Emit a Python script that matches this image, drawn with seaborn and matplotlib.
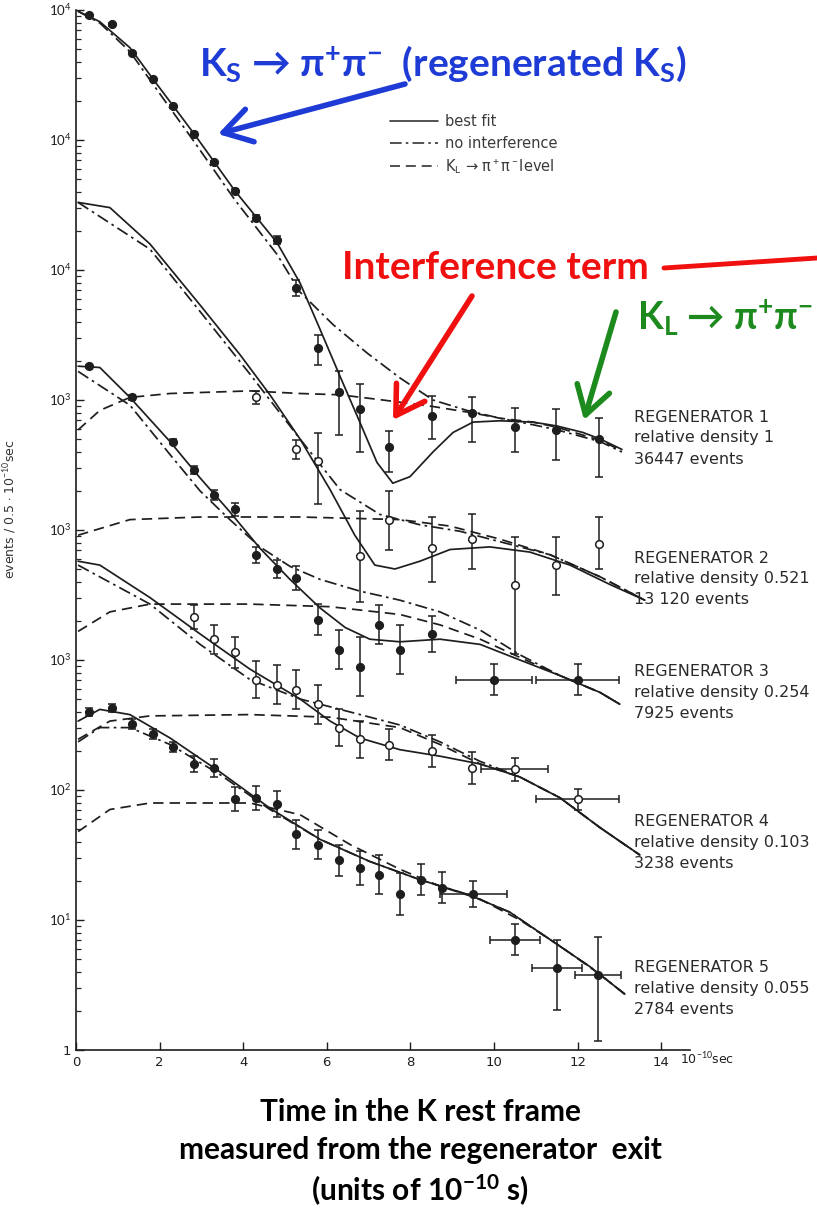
import numpy as np
import pandas as pd
import matplotlib
matplotlib.use("Agg")
import matplotlib.pyplot as plt
from matplotlib.lines import Line2D
import seaborn as sns

sns.set_theme(style="ticks")
plt.rcParams['font.family'] = ['DejaVu Sans']
plt.rcParams['mathtext.fontset'] = 'custom'
plt.rcParams['mathtext.rm'] = 'Lato'
plt.rcParams['mathtext.bf'] = 'Lato:bold'
plt.rcParams['mathtext.it'] = 'Lato:italic'

# ---------------- data: time (1e-10 s) and log10(events, plot scale) ----------------
# Regenerator 1
r1_fit_t = [0.05, 0.57, 1.29, 1.84, 2.82, 3.80, 4.81, 5.36, 5.79, 6.32, 6.79, 7.20, 7.58, 7.99, 8.54, 9.02, 9.50, 10.14, 10.93, 11.51, 12.13, 12.54, 13.06]
r1_fit_log = [7.99, 7.91, 7.71, 7.47, 7.05, 6.61, 6.21, 5.90, 5.58, 5.18, 4.83, 4.52, 4.36, 4.41, 4.60, 4.75, 4.83, 4.84, 4.83, 4.80, 4.75, 4.70, 4.62]
r1_noi_t = [0.05, 0.57, 1.29, 1.84, 2.82, 3.80, 4.81, 5.36, 6.15, 6.97, 7.75, 8.54, 9.35, 10.14, 10.93, 11.51, 12.54, 13.06]
r1_noi_log = [7.99, 7.90, 7.68, 7.43, 6.99, 6.54, 6.12, 5.83, 5.58, 5.36, 5.17, 5.00, 4.92, 4.86, 4.81, 4.77, 4.68, 4.60]
r1_kl_t = [0.05, 0.57, 1.29, 2.25, 4.16, 5.36, 6.32, 7.34, 8.54, 9.50, 10.14, 10.93, 11.51, 12.54, 13.06]
r1_kl_log = [4.77, 4.92, 5.02, 5.05, 5.07, 5.05, 5.04, 5.00, 4.95, 4.90, 4.86, 4.83, 4.79, 4.69, 4.61]
r1_pt_t = [0.30, 0.85, 1.35, 1.85, 2.32, 2.82, 3.30, 3.80, 4.31, 4.81, 5.26, 5.79, 6.29, 6.79, 7.49, 8.52, 9.47, 10.50, 11.48, 12.51]
r1_pt_log = [7.96, 7.89, 7.67, 7.47, 7.26, 7.05, 6.83, 6.61, 6.40, 6.23, 5.86, 5.40, 5.06, 4.93, 4.64, 4.88, 4.90, 4.79, 4.77, 4.70]
r1_pt_lo = [7.95, 7.88, 7.66, 7.46, 7.25, 7.04, 6.82, 6.60, 6.38, 6.20, 5.80, 5.27, 4.73, 4.60, 4.45, 4.70, 4.68, 4.60, 4.54, 4.41]
r1_pt_hi = [7.97, 7.90, 7.68, 7.48, 7.27, 7.06, 6.84, 6.62, 6.42, 6.26, 5.92, 5.50, 5.22, 5.12, 4.76, 5.03, 5.02, 4.94, 4.93, 4.86]
r1_pt_xerr = [0] * 20

# Regenerator 2
r2_fit_t = [0.05, 0.81, 1.77, 2.97, 3.92, 4.64, 5.36, 6.08, 6.67, 7.15, 7.63, 8.23, 8.95, 9.90, 10.86, 11.82, 12.78, 13.61]
r2_fit_log = [6.52, 6.48, 6.20, 5.73, 5.35, 5.04, 4.70, 4.31, 3.96, 3.73, 3.70, 3.76, 3.85, 3.87, 3.83, 3.73, 3.58, 3.46]
r2_noi_t = [0.05, 1.77, 2.97, 4.16, 5.36, 6.32, 7.27, 8.23, 9.19, 10.14, 11.34, 12.54, 13.61]
r2_noi_log = [6.52, 6.16, 5.68, 5.20, 4.70, 4.31, 4.12, 4.04, 3.99, 3.91, 3.81, 3.64, 3.46]
r2_kl_t = [0.05, 1.29, 2.97, 5.36, 7.75, 8.95, 10.14, 11.34, 12.54, 13.61]
r2_kl_log = [3.96, 4.08, 4.10, 4.10, 4.08, 4.03, 3.93, 3.81, 3.64, 3.46]
r2_pt_t = [4.31, 5.26, 5.79, 6.79, 7.49, 8.52, 9.47, 10.50, 11.48, 12.51]
r2_pt_log = [5.02, 4.62, 4.53, 3.80, 4.08, 3.86, 3.93, 3.58, 3.73, 3.89]
r2_pt_lo = [4.97, 4.55, 4.20, 3.45, 3.85, 3.60, 3.70, 3.05, 3.50, 3.70]
r2_pt_hi = [5.07, 4.69, 4.75, 4.15, 4.30, 4.10, 4.12, 3.95, 3.95, 4.10]
r2_pt_xerr = [0] * 10

# Regenerator 3
r3_fit_t = [0.05, 0.57, 1.29, 2.25, 2.97, 3.68, 4.40, 5.12, 5.84, 6.44, 7.03, 7.75, 8.71, 9.67, 10.62, 11.58, 12.54, 13.01]
r3_fit_log = [5.26, 5.25, 5.02, 4.68, 4.40, 4.14, 3.86, 3.62, 3.40, 3.25, 3.16, 3.14, 3.16, 3.12, 3.00, 2.88, 2.75, 2.66]
r3_noi_t = [0.05, 1.29, 2.25, 2.97, 3.68, 4.40, 5.12, 5.84, 6.79, 7.75, 8.71, 9.67, 10.62, 11.58, 12.54, 13.01]
r3_noi_log = [5.22, 4.96, 4.58, 4.30, 4.08, 3.87, 3.72, 3.62, 3.53, 3.46, 3.37, 3.23, 3.04, 2.88, 2.75, 2.66]
r3_kl_t = [0.05, 0.81, 1.77, 4.16, 6.08, 7.75, 8.71, 9.67, 10.62, 11.58, 12.54, 13.01]
r3_kl_log = [3.22, 3.37, 3.43, 3.43, 3.41, 3.35, 3.27, 3.16, 3.02, 2.88, 2.75, 2.66]
r3_pt_t = [0.30, 1.35, 2.32, 2.82, 3.30, 3.80, 4.31, 4.81, 5.26, 5.79, 6.29, 6.79, 7.25, 7.75, 8.52, 10.0, 12.0]
r3_pt_log = [5.26, 5.02, 4.68, 4.46, 4.27, 4.16, 3.81, 3.70, 3.63, 3.31, 3.08, 2.95, 3.27, 3.08, 3.20, 2.85, 2.85]
r3_pt_lo = [5.25, 5.00, 4.66, 4.43, 4.23, 4.11, 3.75, 3.63, 3.54, 3.19, 2.93, 2.72, 3.12, 2.89, 3.06, 2.73, 2.73]
r3_pt_hi = [5.27, 5.04, 4.70, 4.49, 4.31, 4.21, 3.87, 3.77, 3.72, 3.43, 3.23, 3.18, 3.42, 3.27, 3.34, 2.97, 2.97]
r3_pt_xerr = [0, 0, 0, 0, 0, 0, 0, 0, 0, 0, 0, 0, 0, 0, 0, 0.9, 1.0]

# Regenerator 4
r4_fit_t = [0.05, 0.57, 1.77, 2.97, 4.16, 5.36, 6.08, 6.79, 7.75, 8.71, 9.67, 10.62, 11.58, 12.54, 13.49]
r4_fit_log = [3.76, 3.73, 3.48, 3.20, 2.93, 2.70, 2.53, 2.40, 2.31, 2.26, 2.20, 2.10, 1.94, 1.71, 1.50]
r4_noi_t = [0.05, 1.77, 2.97, 4.16, 5.36, 6.56, 7.75, 8.71, 9.67, 10.62, 11.58, 12.54, 13.49]
r4_noi_log = [3.73, 3.43, 3.12, 2.85, 2.70, 2.60, 2.50, 2.37, 2.22, 2.10, 1.94, 1.71, 1.50]
r4_kl_t = [0.05, 0.81, 1.77, 4.16, 6.08, 7.75, 8.71, 9.67, 10.62, 11.58, 12.54, 13.49]
r4_kl_log = [2.39, 2.53, 2.57, 2.58, 2.56, 2.48, 2.35, 2.20, 2.10, 1.94, 1.71, 1.50]
r4_pt_t = [2.82, 3.30, 3.80, 4.31, 4.81, 5.26, 5.79, 6.29, 6.79, 7.49, 8.52, 9.47, 10.50, 12.0]
r4_pt_log = [3.33, 3.16, 3.06, 2.85, 2.81, 2.77, 2.66, 2.48, 2.39, 2.35, 2.30, 2.17, 2.16, 1.93]
r4_pt_lo = [3.24, 3.05, 2.94, 2.71, 2.66, 2.62, 2.51, 2.34, 2.25, 2.23, 2.18, 2.05, 2.07, 1.85]
r4_pt_hi = [3.42, 3.27, 3.18, 2.99, 2.96, 2.92, 2.81, 2.62, 2.53, 2.47, 2.42, 2.29, 2.25, 2.01]
r4_pt_xerr = [0, 0, 0, 0, 0, 0, 0, 0, 0, 0, 0, 0, 0.8, 1.0]

# Regenerator 5
r5_fit_t = [0.05, 0.57, 1.29, 2.25, 3.44, 4.64, 5.84, 7.03, 8.23, 9.43, 10.38, 11.34, 12.30, 13.13]
r5_fit_log = [2.53, 2.62, 2.58, 2.40, 2.14, 1.86, 1.62, 1.45, 1.31, 1.19, 1.06, 0.85, 0.64, 0.43]
r5_noi_t = [0.05, 0.57, 1.29, 2.25, 3.44, 4.64, 5.84, 7.03, 8.23, 9.43, 10.38, 11.34, 12.30, 13.13]
r5_noi_log = [2.37, 2.48, 2.48, 2.35, 2.12, 1.85, 1.62, 1.45, 1.31, 1.19, 1.06, 0.85, 0.64, 0.43]
r5_kl_t = [0.05, 0.81, 1.77, 4.16, 5.36, 6.56, 7.75, 8.71, 9.67, 10.62, 11.58, 12.54, 13.13]
r5_kl_log = [1.68, 1.85, 1.90, 1.90, 1.81, 1.58, 1.39, 1.26, 1.16, 1.00, 0.80, 0.58, 0.43]
r5_pt_t = [0.30, 0.85, 1.35, 1.85, 2.32, 2.82, 3.30, 3.80, 4.31, 4.81, 5.26, 5.79, 6.29, 6.79, 7.25, 7.75, 8.25, 8.75, 9.50, 10.50, 11.50, 12.50]
r5_pt_log = [2.60, 2.63, 2.51, 2.43, 2.33, 2.20, 2.17, 1.93, 1.94, 1.89, 1.66, 1.58, 1.46, 1.40, 1.35, 1.20, 1.31, 1.25, 1.20, 0.85, 0.63, 0.58]
r5_pt_lo = [2.57, 2.60, 2.47, 2.39, 2.29, 2.14, 2.10, 1.84, 1.85, 1.79, 1.55, 1.47, 1.34, 1.27, 1.20, 1.04, 1.19, 1.13, 1.10, 0.73, 0.31, 0.07]
r5_pt_hi = [2.63, 2.66, 2.55, 2.47, 2.37, 2.26, 2.24, 2.02, 2.03, 1.99, 1.77, 1.69, 1.58, 1.53, 1.50, 1.36, 1.43, 1.37, 1.30, 0.97, 0.85, 0.87]
r5_pt_xerr = [0] * 18 + [0.8, 0.6, 0.6, 0.55]

regenerators = [
    ("REGENERATOR 1", "relative density 1", "36447 events", True),
    ("REGENERATOR 2", "relative density 0.521", "13 120 events", False),
    ("REGENERATOR 3", "relative density 0.254", "7925 events", True),
    ("REGENERATOR 4", "relative density 0.103", "3238 events", False),
    ("REGENERATOR 5", "relative density 0.055", "2784 events", True),
]
label_rows = [417, 558, 672, 822, 968]   # top line of each regenerator caption (pixels)

y_tick_labels = ["1", r"$10^1$", r"$10^2$", r"$10^3$", r"$10^3$", r"$10^3$", r"$10^4$", r"$10^4$", r"$10^4$"]
x_ticks = [0, 2, 4, 6, 8, 10, 12, 14]

# ---------------- figure ----------------
W, H = 817, 1219
fig = plt.figure(figsize=(W / 100, H / 100), dpi=100)
ax = fig.add_axes([76 / W, (H - 1050) / H, (690 - 76) / W, 1040 / H])
ax.set_yscale('log')

ink = '#1e1e1e'
dashdot = (7, 2.5, 1.5, 2.5)
dashed = (6, 3.5)

series = [
    (r1_fit_t, r1_fit_log, r1_noi_t, r1_noi_log, r1_kl_t, r1_kl_log, r1_pt_t, r1_pt_log, r1_pt_lo, r1_pt_hi, r1_pt_xerr),
    (r2_fit_t, r2_fit_log, r2_noi_t, r2_noi_log, r2_kl_t, r2_kl_log, r2_pt_t, r2_pt_log, r2_pt_lo, r2_pt_hi, r2_pt_xerr),
    (r3_fit_t, r3_fit_log, r3_noi_t, r3_noi_log, r3_kl_t, r3_kl_log, r3_pt_t, r3_pt_log, r3_pt_lo, r3_pt_hi, r3_pt_xerr),
    (r4_fit_t, r4_fit_log, r4_noi_t, r4_noi_log, r4_kl_t, r4_kl_log, r4_pt_t, r4_pt_log, r4_pt_lo, r4_pt_hi, r4_pt_xerr),
    (r5_fit_t, r5_fit_log, r5_noi_t, r5_noi_log, r5_kl_t, r5_kl_log, r5_pt_t, r5_pt_log, r5_pt_lo, r5_pt_hi, r5_pt_xerr),
]

for i, (ft, fl, nt, nl, kt, kl, pt, pl, plo, phi, pxe) in enumerate(series):
    for (tt, ll, st) in [(ft, fl, None), (nt, nl, dashdot), (kt, kl, dashed)]:
        df = pd.DataFrame({'t': tt, 'v': np.power(10.0, ll)})
        sns.lineplot(data=df, x='t', y='v', ax=ax, color=ink, lw=1.25, legend=False)
        if st is not None:
            ax.lines[-1].set_dashes(st)
    v = np.power(10.0, np.array(pl))
    lo = np.power(10.0, np.array(plo)); hi = np.power(10.0, np.array(phi))
    filled = regenerators[i][3]
    ax.errorbar(pt, v, yerr=[v - lo, hi - v], xerr=pxe, fmt='o', ms=5.5,
                mfc=ink if filled else 'white', mec=ink, mew=1.1,
                ecolor=ink, elinewidth=1.1, capsize=3, capthick=1.1, zorder=4)
    for k, txt in enumerate(regenerators[i][:3]):
        fig.text(634 / W, 1 - (label_rows[i] + 21 * k) / H, txt, fontsize=11.5, color='#2a2a2a',
                 va='center', ha='left')

ax.set_xlim(0, 14.69)
ax.set_ylim(1, 1e8)
ax.set_xlabel('')

legend_handles = [Line2D([], [], color='#333333', lw=1.2),
                  Line2D([], [], color='#333333', lw=1.2, dashes=dashdot),
                  Line2D([], [], color='#333333', lw=1.2, dashes=dashed)]
ax.legend(legend_handles, ["best fit", "no interference", r"K$_\mathrm{L}$ → π$^+$π$^-$level"],
          loc='upper left', bbox_to_anchor=(380 / W, 1 - 104 / H), bbox_transform=fig.transFigure,
          frameon=False, fontsize=10.5, handlelength=3.3, labelspacing=0.45, handletextpad=0.45,
          labelcolor='#3a3a3a', borderpad=0.2)

# axes styling
ax.set_yticks(np.power(10.0, np.arange(9)))
ax.set_yticklabels(y_tick_labels)
ax.yaxis.set_minor_locator(matplotlib.ticker.LogLocator(base=10, subs=np.arange(2, 10)))
ax.yaxis.set_minor_formatter(matplotlib.ticker.NullFormatter())
ax.set_xticks(x_ticks)
ax.set_xticklabels([str(v) for v in x_ticks])
ax.tick_params(axis='both', direction='in', colors=ink, labelsize=9.5, length=6, width=1.0)
ax.tick_params(axis='y', which='minor', direction='in', length=3.5, width=0.9)
ax.tick_params(axis='x', pad=4)
for s in ['top', 'right']:
    ax.spines[s].set_visible(False)
for s in ['left', 'bottom']:
    ax.spines[s].set_color(ink)
    ax.spines[s].set_linewidth(1.2)
ax.grid(False)
ax.set_ylabel(r'events / 0.5 $\cdot$ 10$^{-10}$sec', fontsize=9, color='#333333')
ax.yaxis.set_label_coords(-0.095, 0.52)
ax.text(14.45, -0.009, r'10$^{-10}$sec', fontsize=9, color=ink, ha='left', va='center',
        transform=ax.get_xaxis_transform(), clip_on=False)

# ---------------- coloured annotations ----------------
def fp(x, y):
    return (x, H - y)

bold_font = ['Lato', 'DejaVu Sans']
blue = '#1f3bd5'
red = '#f01010'
green = '#1d8a1d'
fig.text(443 / W, 1 - 64 / H, r'K$_\mathbf{S}$ → π$^\mathbf{+}$π$^\mathbf{-}$  (regenerated K$_\mathbf{S}$)',
         ha='center', va='center', fontsize=28, fontweight='bold', color=blue, family=bold_font)
ax.annotate('', xy=fp(218, 134), xytext=fp(405, 84), xycoords='figure pixels', textcoords='figure pixels',
            arrowprops=dict(arrowstyle='->,head_length=0.9,head_width=0.55', lw=4, color=blue,
                            mutation_scale=22, shrinkA=0, shrinkB=0))

fig.text(495 / W, 1 - 268 / H, 'Interference term', ha='center', va='center', fontsize=28,
         fontweight='bold', color=red, family=bold_font)
ax.annotate('', xy=fp(817, 258), xytext=fp(664, 268), xycoords='figure pixels', textcoords='figure pixels',
            arrowprops=dict(arrowstyle='-', lw=3.5, color=red, shrinkA=0, shrinkB=0))
ax.annotate('', xy=fp(393, 420), xytext=fp(472, 296), xycoords='figure pixels', textcoords='figure pixels',
            arrowprops=dict(arrowstyle='->,head_length=0.9,head_width=0.55', lw=4, color=red,
                            mutation_scale=22, shrinkA=0, shrinkB=0))

fig.text(725 / W, 1 - 318 / H, r'K$_\mathbf{L}$ → π$^\mathbf{+}$π$^\mathbf{-}$', ha='center', va='center',
         fontsize=27, fontweight='bold', color=green, family=bold_font)
ax.annotate('', xy=fp(584, 420), xytext=fp(616, 312), xycoords='figure pixels', textcoords='figure pixels',
            arrowprops=dict(arrowstyle='->,head_length=0.9,head_width=0.55', lw=4, color=green,
                            mutation_scale=22, shrinkA=0, shrinkB=0))

for txt, yy in [("Time in the K rest frame", 1112),
                ("measured from the regenerator  exit", 1150),
                (r"(units of 10$^\mathbf{-10}$ s)", 1190)]:
    fig.text(420 / W, 1 - yy / H, txt, ha='center', va='center', fontsize=21.5, fontweight='bold',
             color='black', family=bold_font)

fig.savefig('out.png', dpi=100)
